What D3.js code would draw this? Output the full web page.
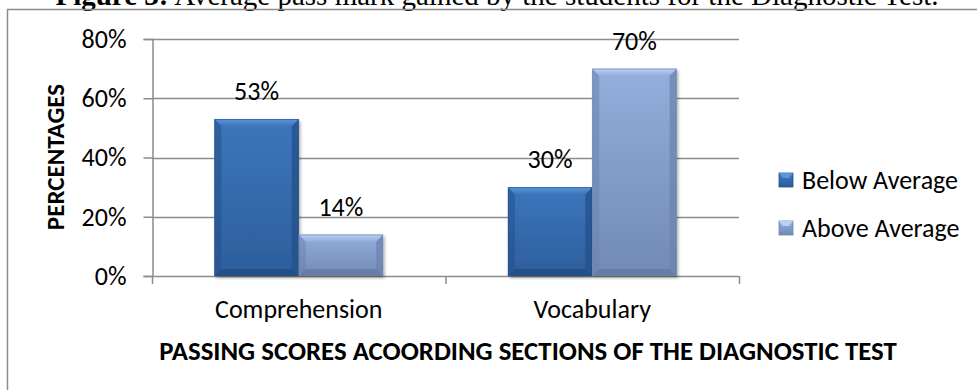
<!DOCTYPE html>
<html><head><meta charset="utf-8">
<script src="https://cdn.jsdelivr.net/npm/d3@7/dist/d3.min.js"></script>
<style>
html,body{margin:0;padding:0;background:#fff;}
svg{display:block;}
</style></head>
<body>
<svg id="chart" width="977" height="390"></svg>
<script>
const categories = ["Comprehension", "Vocabulary"];
const seriesNames = ["Below Average", "Above Average"];
const belowAverage = [0.53, 0.30];
const aboveAverage = [0.14, 0.70];
const yTicks = [0, 0.2, 0.4, 0.6, 0.8];
const titleBold = "Figure 3:";
const titleRest = " Average pass mark gained by the students for the Diagnostic Test.";
const yTitle = "PERCENTAGES";
const xTitle = "PASSING SCORES ACOORDING SECTIONS OF THE DIAGNOSTIC TEST";

const seriesValues = [belowAverage, aboveAverage];
const font = "Carlito, Lato, sans-serif";

const svg = d3.select("#chart");
const defs = svg.append("defs");

const palettes = [
  {body0:"#3D76BD", body1:"#2D5E9C", top:"#5C95D9", edge:"#24508A", bottom:"#1F4678"},
  {body0:"#94AFDD", body1:"#7189B7", top:"#BCD1F1", edge:"#6C84AE", bottom:"#5E7399"}
];
palettes.forEach((p,i)=>{
  const g = defs.append("linearGradient").attr("id","body"+i).attr("x1",0).attr("y1",0).attr("x2",0).attr("y2",1);
  g.append("stop").attr("offset","0%").attr("stop-color",p.body0);
  g.append("stop").attr("offset","100%").attr("stop-color",p.body1);
  const h = defs.append("linearGradient").attr("id","top"+i).attr("x1",0).attr("y1",0).attr("x2",0).attr("y2",1);
  h.append("stop").attr("offset","0%").attr("stop-color",p.top);
  h.append("stop").attr("offset","100%").attr("stop-color",p.body0);
});
const sh = defs.append("filter").attr("id","shadow").attr("x","-10%").attr("y","-10%").attr("width","130%").attr("height","130%");
sh.append("feDropShadow").attr("dx",1.5).attr("dy",2).attr("stdDeviation",1.5).attr("flood-color","#000").attr("flood-opacity",0.35);

// Title (partly cut at top, as in the reference)
const title = svg.append("text").attr("x", 497).attr("y", 5)
  .attr("text-anchor","middle")
  .style("font-family","'Liberation Serif','Times New Roman',serif")
  .style("font-size","29px").attr("fill","#000");
title.append("tspan").style("font-weight","bold").text(titleBold);
title.append("tspan").text(titleRest);

// Chart border
svg.append("rect").attr("x",7.5).attr("y",9.5).attr("width",1000).attr("height",420)
  .attr("fill","none").attr("stroke","#8c8c8c").attr("stroke-width",1.5);

const x0 = d3.scaleBand().domain(categories).range([152, 739]).paddingInner(0).paddingOuter(0);
const x1 = d3.scaleBand().domain(seriesNames).range([0, x0.bandwidth()]).paddingInner(0).paddingOuter(0.74);
const y = d3.scaleLinear().domain([0, 0.8]).range([276, 39]);

// Gridlines
svg.append("g").selectAll("line").data(yTicks).join("line")
  .attr("x1",152).attr("x2",739)
  .attr("y1",d=>Math.round(y(d))+0.5).attr("y2",d=>Math.round(y(d))+0.5)
  .attr("stroke","#8c8c8c").attr("stroke-width",1.5);

// Y axis
const yAxis = svg.append("g").attr("transform","translate(152.5,0)")
  .call(d3.axisLeft(y).tickValues(yTicks).tickFormat(d3.format(".0%")).tickSize(9).tickPadding(17));
yAxis.select(".domain").attr("stroke","#8c8c8c").attr("stroke-width",1.5);
yAxis.selectAll(".tick line").attr("stroke","#8c8c8c").attr("stroke-width",1.5);
yAxis.selectAll(".tick text").style("font-family",font).style("font-size","26px").attr("fill","#000");

// X axis tick marks at band edges
const edges = categories.map(c=>x0(c)).concat([x0(categories[categories.length-1]) + x0.bandwidth()]);
svg.append("g").selectAll("line").data(edges).join("line")
  .attr("x1",d=>d+0.5).attr("x2",d=>d+0.5).attr("y1",276).attr("y2",284)
  .attr("stroke","#8c8c8c").attr("stroke-width",1.5);

svg.append("g").selectAll("text").data(categories).join("text")
  .attr("x",d=>x0(d)+x0.bandwidth()/2).attr("y",318)
  .attr("text-anchor","middle").style("font-family",font).style("font-size","26px")
  .attr("fill","#000").text(d=>d);

// Bars
const bev = 7;
const barData = [];
categories.forEach((c,ci)=>{
  seriesNames.forEach((s,si)=>{
    barData.push({c, s, si, v: seriesValues[si][ci]});
  });
});
const bars = svg.append("g").selectAll("g").data(barData).join("g")
  .attr("transform",d=>`translate(${x0(d.c)+x1(d.s)},0)`);
bars.each(function(d){
  const g = d3.select(this);
  const w = x1.bandwidth(), top = y(d.v), bot = y(0), p = palettes[d.si];
  g.append("rect").attr("x",0).attr("y",top).attr("width",w).attr("height",bot-top)
    .attr("fill",`url(#body${d.si})`).attr("filter","url(#shadow)");
  g.append("path").attr("d",`M0,${top}L${bev},${top+bev}L${bev},${bot-bev}L0,${bot}Z`).attr("fill",p.edge).attr("opacity",0.55);
  g.append("path").attr("d",`M${w},${top}L${w-bev},${top+bev}L${w-bev},${bot-bev}L${w},${bot}Z`).attr("fill",p.edge).attr("opacity",0.75);
  g.append("path").attr("d",`M0,${bot}L${bev},${bot-bev}L${w-bev},${bot-bev}L${w},${bot}Z`).attr("fill",p.bottom).attr("opacity",0.6);
  g.append("path").attr("d",`M0,${top}L${w},${top}L${w-bev},${top+bev}L${bev},${top+bev}Z`).attr("fill",`url(#top${d.si})`);
  g.append("rect").attr("x",0.5).attr("y",top+0.5).attr("width",w-1).attr("height",bot-top-1)
    .attr("fill","none").attr("stroke",p.edge).attr("stroke-width",1).attr("opacity",0.6);
});

// Data labels
svg.append("g").selectAll("text").data(barData).join("text")
  .attr("x",d=>x0(d.c)+x1(d.s)+x1.bandwidth()/2).attr("y",d=>y(d.v)-19)
  .attr("text-anchor","middle").style("font-family",font).style("font-size","26px")
  .attr("fill","#000").text(d=>d3.format(".0%")(d.v));

// Y title
svg.append("text").attr("transform","translate(64,157) rotate(-90)")
  .attr("text-anchor","middle").style("font-family",font).style("font-size","25px")
  .style("font-weight","bold").attr("fill","#000").text(yTitle);

// X title
svg.append("text").attr("x",528).attr("y",360).attr("text-anchor","middle")
  .style("font-family",font).style("font-size","26.8px").style("font-weight","bold")
  .attr("fill","#000").text(xTitle);

// Legend
const leg = svg.append("g").selectAll("g").data(seriesNames).join("g")
  .attr("transform",(d,i)=>`translate(779,${173 + i*48})`);
leg.append("rect").attr("width",14).attr("height",14).attr("fill",(d,i)=>`url(#body${i})`)
  .attr("stroke",(d,i)=>palettes[i].edge).attr("stroke-width",0.8);
leg.append("path").attr("d","M0,0L14,0L10,5L4,5Z").attr("fill",(d,i)=>palettes[i].top);
leg.append("text").attr("x",23).attr("y",16).style("font-family",font).style("font-size","26px")
  .attr("fill","#000").text(d=>d);
</script>
</body></html>
